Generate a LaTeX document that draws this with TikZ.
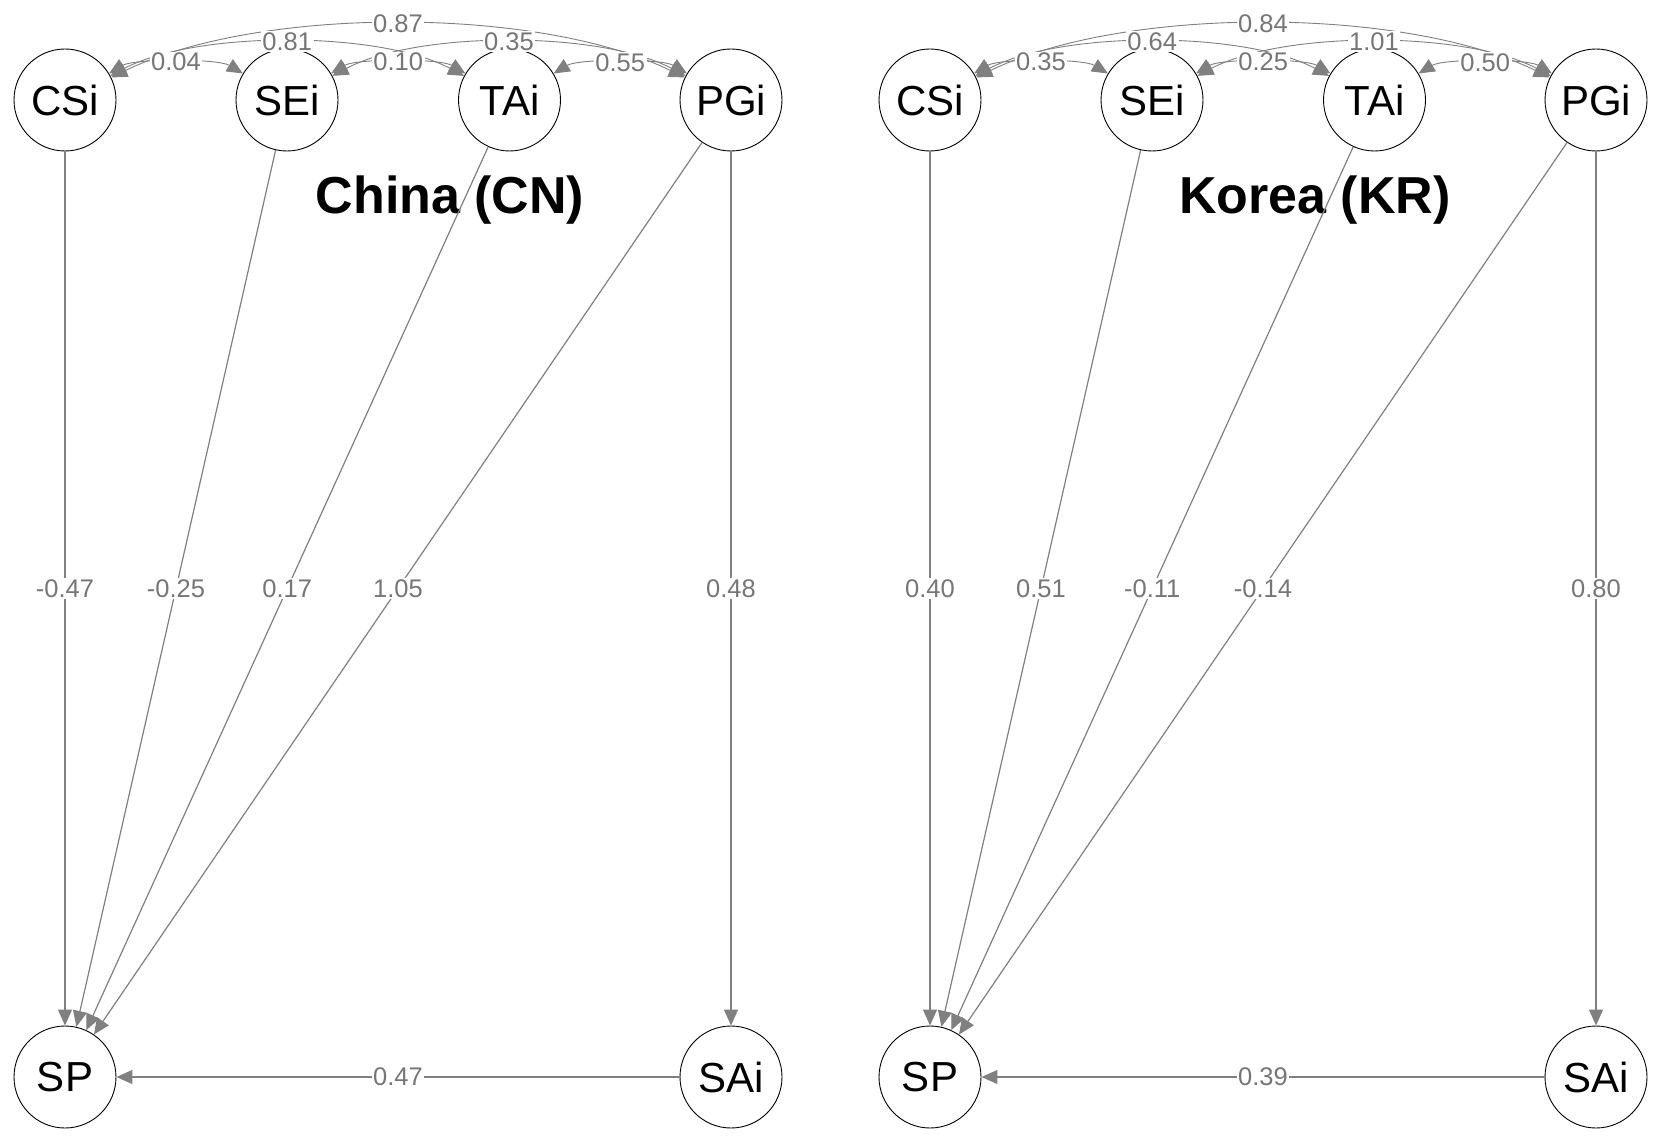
\documentclass[tikz,border=0pt]{standalone}
\usepackage{fontspec}
\setmainfont{Liberation Sans}
\usetikzlibrary{arrows.meta}
\definecolor{edgegray}{RGB}{128,128,128}
\definecolor{lblgray}{RGB}{118,118,118}
\begin{document}
\begin{tikzpicture}[x=1pt,y=1pt,
  var/.style={circle,draw=black,line width=0.9pt,minimum size=102pt,inner sep=0pt,font=\fontsize{42}{42}\selectfont},
  reg/.style={draw=edgegray,line width=1.2pt,-{Triangle[length=16pt,width=14pt]}},
  cov/.style={draw=edgegray,line width=0.9pt,{Triangle[length=16pt,width=14pt]}-{Triangle[length=16pt,width=14pt]}},
  near/.style={bend left=31,looseness=0.56},
  mid/.style={bend left=28,looseness=0.70},
  far/.style={bend left=26,looseness=0.73},
  lbl/.style={fill=white,text=lblgray,inner sep=1.5pt,font=\fontsize{25.5}{25.5}\selectfont},
  ttl/.style={font=\fontsize{52}{52}\selectfont\bfseries}]
\fill[white] (0,0) rectangle (1654,-1142);
\path[use as bounding box] (0,0) rectangle (1654,-1142);

% ---------- China panel ----------
\node[var] (aCSi) at (65,-100) {CSi};
\node[var] (aSEi) at (287,-100) {SEi};
\node[var] (aTAi) at (509.5,-100) {TAi};
\node[var] (aPGi) at (731,-100) {PGi};
\node[var] (aSP)  at (65,-1077) {SP};
\node[var] (aSAi) at (731,-1077) {SAi};
\node[ttl] (aT) at (450,-200) {China (CN)};

\draw[reg] (aCSi) -- node[lbl]{-0.47} (aSP);
\draw[reg] (aSEi) -- node[lbl]{-0.25} (aSP);
\draw[reg] (aTAi) -- node[lbl]{0.17} (aSP);
\draw[reg] (aPGi) -- node[lbl]{1.05} (aSP);
\draw[reg] (aPGi) -- node[lbl]{0.48} (aSAi);
\draw[reg] (aSAi) -- node[lbl]{0.47} (aSP);

\draw[cov] (aCSi) to[far] node[lbl]{0.87} (aPGi);
\draw[cov] (aCSi) to[mid] node[lbl]{0.81} (aTAi);
\draw[cov] (aSEi) to[mid] node[lbl]{0.35} (aPGi);
\draw[cov] (aCSi) to[near] node[lbl]{0.04} (aSEi);
\draw[cov] (aSEi) to[near] node[lbl]{0.10} (aTAi);
\draw[cov] (aTAi) to[near] node[lbl]{0.55} (aPGi);

% ---------- Korea panel ----------
\node[var] (bCSi) at (930,-100) {CSi};
\node[var] (bSEi) at (1152,-100) {SEi};
\node[var] (bTAi) at (1374.5,-100) {TAi};
\node[var] (bPGi) at (1596,-100) {PGi};
\node[var] (bSP)  at (930,-1077) {SP};
\node[var] (bSAi) at (1596,-1077) {SAi};
\node[ttl] (bT) at (1315,-200) {Korea (KR)};

\draw[reg] (bCSi) -- node[lbl]{0.40} (bSP);
\draw[reg] (bSEi) -- node[lbl]{0.51} (bSP);
\draw[reg] (bTAi) -- node[lbl]{-0.11} (bSP);
\draw[reg] (bPGi) -- node[lbl]{-0.14} (bSP);
\draw[reg] (bPGi) -- node[lbl]{0.80} (bSAi);
\draw[reg] (bSAi) -- node[lbl]{0.39} (bSP);

\draw[cov] (bCSi) to[far] node[lbl]{0.84} (bPGi);
\draw[cov] (bCSi) to[mid] node[lbl]{0.64} (bTAi);
\draw[cov] (bSEi) to[mid] node[lbl]{1.01} (bPGi);
\draw[cov] (bCSi) to[near] node[lbl]{0.35} (bSEi);
\draw[cov] (bSEi) to[near] node[lbl]{0.25} (bTAi);
\draw[cov] (bTAi) to[near] node[lbl]{0.50} (bPGi);
\end{tikzpicture}
\end{document}
